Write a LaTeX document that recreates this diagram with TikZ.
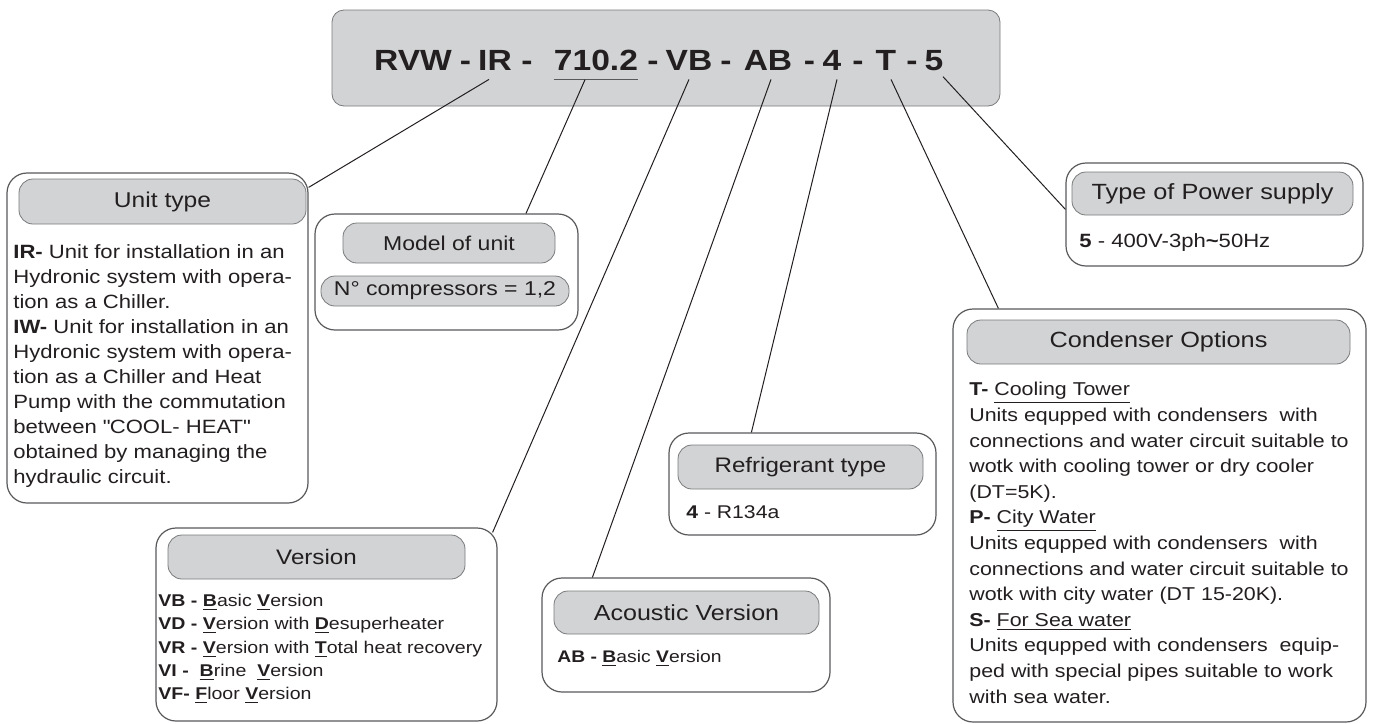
\documentclass[tikz,border=0pt]{standalone}
\usepackage{fontspec}
\setmainfont[FakeStretch=1.15]{Liberation Sans}
\usetikzlibrary{fit,calc}

\definecolor{boxgray}{RGB}{209,211,212}
\definecolor{linegray}{RGB}{88,89,91}
\definecolor{inkblack}{RGB}{35,31,32}

\tikzset{
  outerbox/.style={draw=linegray, line width=0.6pt, rounded corners=10pt, inner sep=0pt, fill=white},
  hdr/.style={draw=linegray!80, line width=0.4pt, fill=boxgray, rounded corners=7pt, inner sep=0pt},
  hdrtext/.style={anchor=center, inner sep=0pt, text=inkblack, font=\fontsize{11pt}{13pt}\selectfont},
  body/.style={anchor=north west, inner sep=0pt, align=left, text=inkblack},
  token/.style={anchor=base, inner xsep=0pt, inner ysep=4.5pt, text=inkblack,
    font=\fontsize{14.6pt}{16pt}\selectfont\bfseries},
  lead/.style={draw=inkblack, line width=0.5pt},
}

\begin{document}
\begin{tikzpicture}[x=0.5pt, y=-0.5pt]
	\useasboundingbox (0,0) rectangle (1373,724);

	% code line
	\node (code) [hdr, rounded corners=6pt, fit={(332,10) (1000,106)}] {};
		\node (tRVW) [token] at (413, 70) {RVW};
		\node (d1) [token] at (465.5, 70) {-};
		\node (tIR) [token] at (495, 70) {IR};
		\node (d2) [token] at (527, 70) {-};
		\node (t710) [token] at (596, 70) {710.2};
		\node (d3) [token] at (653, 70) {-};
		\node (tVB) [token] at (689, 70) {VB};
		\node (d4) [token] at (726, 70) {-};
		\node (tAB) [token] at (768, 70) {AB};
		\node (d5) [token] at (809.5, 70) {-};
		\node (t4) [token] at (832, 70) {4};
		\node (d6) [token] at (858, 70) {-};
		\node (tT) [token] at (886, 70) {T};
		\node (d7) [token] at (912, 70) {-};
		\node (t5) [token] at (934, 70) {5};
	\draw[draw=linegray, line width=0.6pt] (t710.south west) to (t710.south east);

	% unit type
	\node (unit) [outerbox, fit={(7,173) (308,503)}] {};
		\node (hUnit) [hdr, fit={(19,179) (306,224)}] {};
		\node (lUnit) [hdrtext, font=\fontsize{10.7pt}{13pt}\selectfont] at (hUnit.center) {Unit type};
		\node (txUnit) [body, font=\fontsize{9.6pt}{12.5pt}\selectfont] at (13, 244) {%
			\textbf{IR-} Unit for installation in an\\
			Hydronic system with opera-\\
			tion as a Chiller.\\
			\textbf{IW-} Unit for installation in an\\
			Hydronic system with opera-\\
			tion as a Chiller and Heat\\
			Pump with the commutation\\
			between \textquotedbl COOL- HEAT\textquotedbl\\
			obtained by managing the\\
			hydraulic circuit.};

	% model of unit
	\node (model) [outerbox, fit={(315,214) (578,330)}] {};
		\node (hModel) [hdr, fit={(343,223) (555,263)}] {};
		\node (lModel) [hdrtext, font=\fontsize{10pt}{12pt}\selectfont] at (hModel.center) {Model of unit};
		\node (hComp) [hdr, fit={(321,276) (569,306)}] {};
		\node (lComp) [hdrtext, font=\fontsize{10pt}{12pt}\selectfont] at (hComp.center) {N° compressors = 1,2};

	% version
	\node (version) [outerbox, fit={(156,528) (497,721)}] {};
		\node (hVersion) [hdr, fit={(168,535) (465,579)}] {};
		\node (lVersion) [hdrtext, font=\fontsize{10.5pt}{13pt}\selectfont] at (hVersion.center) {Version};
		\node (txVersion) [body, font=\fontsize{8.5pt}{11.6pt}\selectfont] at (158, 594) {%
			\textbf{VB -} \underline{\textbf{B}}asic \underline{\textbf{V}}ersion\\
			\textbf{VD -} \underline{\textbf{V}}ersion with \underline{\textbf{D}}esuperheater\\
			\textbf{VR -} \underline{\textbf{V}}ersion with \underline{\textbf{T}}otal heat recovery\\
			\textbf{VI -} \ \underline{\textbf{B}}rine \ \underline{\textbf{V}}ersion\\
			\textbf{VF-} \underline{\textbf{F}}loor \underline{\textbf{V}}ersion};

	% acoustic version
	\node (acoustic) [outerbox, fit={(542,578) (830,692)}] {};
		\node (hAcoustic) [hdr, fit={(554,591) (819,634)}] {};
		\node (lAcoustic) [hdrtext, font=\fontsize{10.9pt}{13pt}\selectfont] at (hAcoustic.center) {Acoustic Version};
		\node (txAcoustic) [body, font=\fontsize{8.4pt}{11pt}\selectfont] at (557, 650) {%
			\textbf{AB -} \underline{\textbf{B}}asic \underline{\textbf{V}}ersion};

	% refrigerant type
	\node (refrig) [outerbox, fit={(669,433) (936,535)}] {};
		\node (hRefrig) [hdr, fit={(678,445) (923,489)}] {};
		\node (lRefrig) [hdrtext, font=\fontsize{10.5pt}{13pt}\selectfont] at (hRefrig.center) {Refrigerant type};
		\node (txRefrig) [body, font=\fontsize{9.2pt}{12pt}\selectfont] at (686, 505) {\textbf{4} - R134a};

	% condenser options
	\node (cond) [outerbox, fit={(953,309) (1366,722)}] {};
		\node (hCond) [hdr, fit={(967,320) (1350,364)}] {};
		\node (lCond) [hdrtext] at (hCond.center) {Condenser Options};
		\node (txCond) [body, font=\fontsize{9.3pt}{12.8pt}\selectfont] at (969, 382) {%
			\textbf{T-} \underline{Cooling Tower}\\
			Units equpped with condensers \ with\\
			connections and water circuit suitable to\\
			wotk with cooling tower or dry cooler\\
			(DT=5K).\\
			\textbf{P-} \underline{City Water}\\
			Units equpped with condensers \ with\\
			connections and water circuit suitable to\\
			wotk with city water (DT 15-20K).\\
			\textbf{S-} \underline{For Sea water}\\
			Units equpped with condensers \ equip-\\
			ped with special pipes suitable to work\\
			with sea water.};

	% power supply
	\node (power) [outerbox, fit={(1066,163) (1363,266)}] {};
		\node (hPower) [hdr, fit={(1072,172) (1353,215)}] {};
		\node (lPower) [hdrtext] at (hPower.center) {Type of Power supply};
		\node (txPower) [body, font=\fontsize{9.6pt}{12pt}\selectfont] at (1079, 233) {%
			\textbf{5} - 400V-3ph\textbf{\textasciitilde}50Hz};

	% leaders
	\draw[lead] ($(tIR.south)+(-6,0)$) to ($(unit.north east)+(0,15)$);
	\draw[lead] ($(t710.south)+(-11,0)$) to ($(model.north)+(79.5,0)$);
	\draw[lead] (tVB.south) to ($(version.north east)+(-5,5)$);
	\draw[lead] ($(tAB.south)+(3,0)$) to ($(acoustic.north west)+(51,0)$);
	\draw[lead] ($(t4.south)+(5,0)$) to ($(refrig.north west)+(83,0)$);
	\draw[lead] ($(tT.south)+(5,0)$) to ($(cond.north west)+(46,0)$);
	\draw[lead] ($(t5.south)+(9,-3)$) to ($(power.north west)+(0,47)$);

\end{tikzpicture}
\end{document}
